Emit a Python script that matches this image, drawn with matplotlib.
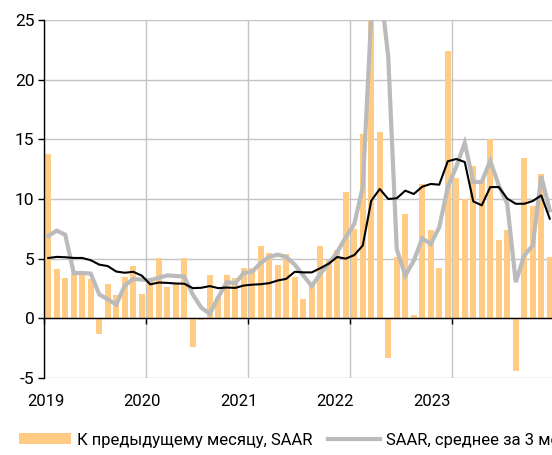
import numpy as np
import matplotlib.pyplot as plt
from matplotlib.patches import Patch
from matplotlib.lines import Line2D
from matplotlib.transforms import blended_transform_factory

plt.rcParams['font.family'] = ['Roboto', 'DejaVu Sans']
plt.rcParams['axes.unicode_minus'] = False

# Monthly data, Jan 2019 - Dec 2023
years = ['2019', '2020', '2021', '2022', '2023']

# m/m, SAAR (bars)
mom_saar = [13.8, 4.1, 3.37, 3.8, 4.0, 3.3, -1.3, 2.84, 1.97, 3.43, 4.35, 2.08,
            3.1, 5.08, 2.6, 2.95, 5.08, -2.4, -0.1, 3.63, 1.8, 3.66, 3.4, 4.2,
            4.2, 6.07, 5.5, 4.44, 5.42, 3.46, 1.66, 3.0, 6.1, 4.86, 5.7, 10.56,
            7.5, 15.45, 53.0, 15.64, -3.35, 5.1, 8.74, 0.3, 11.26, 7.4, 4.19, 22.37,
            11.8, 9.97, 12.75, 11.6, 15.0, 6.58, 7.42, -4.4, 13.45, 9.4, 12.13, 5.13]

# SAAR, 3-month average (grey line)
saar_3m = [6.9, 7.35, 7.0, 3.8, 3.8, 3.75, 2.0, 1.6, 1.15, 2.75, 3.3, 3.25,
           3.2, 3.4, 3.6, 3.55, 3.5, 2.0, 0.9, 0.37, 1.77, 3.03, 2.95, 3.8,
           3.9, 4.66, 5.14, 5.34, 5.14, 4.5, 3.6, 2.7, 3.74, 4.58, 5.56, 6.8,
           7.9, 11.0, 25.4, 28.2, 21.9, 5.8, 3.58, 4.83, 6.7, 6.23, 7.63, 11.0,
           12.7, 14.7, 11.43, 11.43, 13.2, 11.15, 9.6, 3.03, 5.27, 6.1, 11.9, 9.05]

# y/y (black line)
yoy = [5.05, 5.15, 5.12, 5.06, 5.06, 4.87, 4.5, 4.38, 3.92, 3.82, 3.9, 3.58,
       2.85, 3.0, 2.97, 2.92, 2.9, 2.53, 2.56, 2.7, 2.53, 2.58, 2.55, 2.75,
       2.82, 2.86, 2.95, 3.17, 3.31, 3.9, 3.85, 3.85, 4.2, 4.58, 5.14, 5.0,
       5.3, 6.1, 9.85, 10.84, 10.0, 10.06, 10.7, 10.42, 11.03, 11.26, 11.2, 13.16,
       13.35, 13.1, 9.8, 9.47, 11.0, 11.0, 10.03, 9.6, 9.6, 9.83, 10.3, 8.35]

# legend as it shows in the (cropped) reference
labels = ['К предыдущему месяцу, SAAR', 'SAAR, среднее за 3 месяца']

bar_color = '#FFCB85'
grey_color = '#BBBBBB'
grid_color = '#C4C4C4'

x = np.arange(len(mom_saar)) + 0.5

fig = plt.figure(figsize=(5.52, 4.55), dpi=100)
ax = fig.add_axes([44 / 552, 77 / 455, 510 / 552, 358 / 455])

ax.bar(x, mom_saar, width=0.7, color=bar_color, zorder=2)
ax.plot(x, saar_3m, color=grey_color, lw=3.0, zorder=3, solid_joinstyle='miter')
ax.plot(x, yoy, color='black', lw=1.5, zorder=4)

ax.set_xlim(0, 60)
ax.set_ylim(-5, 25)
ax.set_yticks(range(-5, 26, 5))
ax.set_xticks(range(0, 61, 12))
ax.set_xticklabels([])

ax.grid(True, color=grid_color, lw=1.0, zorder=0)
ax.set_axisbelow(True)

for s in ['top', 'right']:
    ax.spines[s].set_visible(False)
ax.spines['left'].set_color('black')
ax.spines['left'].set_linewidth(1.0)
ax.spines['bottom'].set_position(('data', 0))
ax.spines['bottom'].set_color('black')
ax.spines['bottom'].set_linewidth(1.0)
ax.spines['bottom'].set_zorder(5)

ax.tick_params(axis='y', direction='out', length=4, width=1, pad=3,
               labelsize=12.5, colors='black')
ax.tick_params(axis='x', direction='out', length=4, width=1, colors='black')

# year labels under the plot
trans = blended_transform_factory(ax.transData, ax.transAxes)
label_pos = [0.24, 11.5, 22.9, 34.2, 45.6]
for pos, yr in zip(label_pos, years):
    ax.text(pos, -0.065, yr, transform=trans, ha='center', va='center',
            fontsize=12, color='black')

handles = [Patch(facecolor=bar_color, edgecolor='none'),
           Line2D([], [], color=grey_color, lw=3.0)]
fig.legend(handles, labels, loc='center left', bbox_to_anchor=(19 / 552, 15 / 455),
           ncol=2, frameon=False, fontsize=12, handlelength=3.1, handleheight=0.65,
           handletextpad=0.4, columnspacing=0.9, borderpad=0, borderaxespad=0)

fig.savefig('out.png', dpi=100)
